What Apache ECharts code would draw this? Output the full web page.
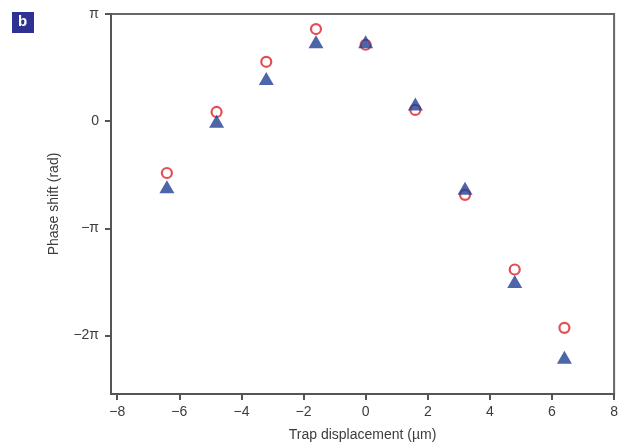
<!DOCTYPE html>
<html>
<head>
<meta charset="utf-8">
<script src="https://cdn.jsdelivr.net/npm/echarts@6/dist/echarts.min.js"></script>
<style>
  html, body { margin: 0; padding: 0; background: #fff; }
  #chart { width: 621px; height: 448px; }
</style>
</head>
<body>
<div id="chart"></div>
<script>
// Trap displacement (µm) for each measurement
const displacement = [-6.4, -4.8, -3.2, -1.6, 0, 1.6, 3.2, 4.8, 6.4];
// Phase shift (rad), open red circles
const phaseCircles = [-1.52, 0.27, 1.74, 2.70, 2.24, 0.33, -2.16, -4.35, -6.06];
// Phase shift (rad), filled blue triangles
const phaseTriangles = [-1.92, 0.0, 1.25, 2.33, 2.33, 0.50, -1.97, -4.70, -6.92];

// Axis ticks
const xTickValues = [-8, -6, -4, -2, 0, 2, 4, 6, 8];
const yTickValues = [Math.PI, 0, -Math.PI, -2 * Math.PI];
const yTickLabels = ['\u03c0', '0', '\u2212\u03c0', '\u22122\u03c0'];

const FONT = '"Liberation Sans", Arial, sans-serif';
const AXIS_COLOR = '#555';
const TEXT_COLOR = '#3c3c3c';

const chart = echarts.init(document.getElementById('chart'), null, { renderer: 'canvas' });

function pairs(ys) {
  return displacement.map((x, i) => [x, ys[i]]);
}

chart.setOption({
  animation: false,
  backgroundColor: '#fff',
  graphic: [
    {
      type: 'rect',
      left: 12, top: 12,
      shape: { width: 22, height: 21 },
      style: { fill: '#2e3192' }
    },
    {
      type: 'text',
      left: 18, top: 14,
      style: { text: 'b', fill: '#fff', font: 'bold 15px ' + FONT }
    }
  ],
  grid: {
    left: 111, right: 3, top: 14, bottom: 54,
    show: true,
    borderColor: '#666',
    borderWidth: 2,
    backgroundColor: 'transparent'
  },
  xAxis: {
    type: 'value',
    min: -8.2,
    max: 8,
    name: 'Trap displacement (\u00b5m)',
    nameLocation: 'middle',
    nameGap: 34,
    nameTextStyle: { fontFamily: FONT, fontSize: 14, color: TEXT_COLOR },
    splitLine: { show: false },
    axisLine: { onZero: false, lineStyle: { color: AXIS_COLOR, width: 2 } },
    axisTick: {
      show: true, length: 6, inside: false,
      customValues: xTickValues,
      lineStyle: { color: AXIS_COLOR, width: 2 }
    },
    axisLabel: {
      customValues: xTickValues,
      margin: 11,
      fontFamily: FONT, fontSize: 14, color: TEXT_COLOR,
      formatter: v => (v < 0 ? '\u2212' + Math.abs(v) : String(v))
    }
  },
  yAxis: {
    type: 'value',
    min: -8.0,
    max: Math.PI,
    name: 'Phase shift (rad)',
    nameLocation: 'middle',
    nameGap: 50,
    nameTextStyle: { fontFamily: FONT, fontSize: 14, color: TEXT_COLOR },
    splitLine: { show: false },
    axisLine: { onZero: false, lineStyle: { color: AXIS_COLOR, width: 2 } },
    axisTick: {
      show: true, length: 6, inside: false,
      customValues: yTickValues,
      lineStyle: { color: AXIS_COLOR, width: 2 }
    },
    axisLabel: {
      customValues: yTickValues,
      margin: 12,
      fontFamily: FONT, fontSize: 14, color: TEXT_COLOR,
      formatter: v => {
        const i = yTickValues.findIndex(t => Math.abs(t - v) < 1e-6);
        return i >= 0 ? yTickLabels[i] : '';
      }
    }
  },
  series: [
    {
      type: 'scatter',
      data: pairs(phaseCircles),
      symbol: 'circle',
      symbolSize: 10,
      itemStyle: { color: 'rgba(0,0,0,0)', borderColor: '#dd2027', borderWidth: 2.2 },
      z: 2
    },
    {
      type: 'scatter',
      data: pairs(phaseTriangles),
      symbol: 'triangle',
      symbolSize: [15, 13],
      itemStyle: { color: '#213f94' },
      z: 3
    }
  ]
});
</script>
</body>
</html>
